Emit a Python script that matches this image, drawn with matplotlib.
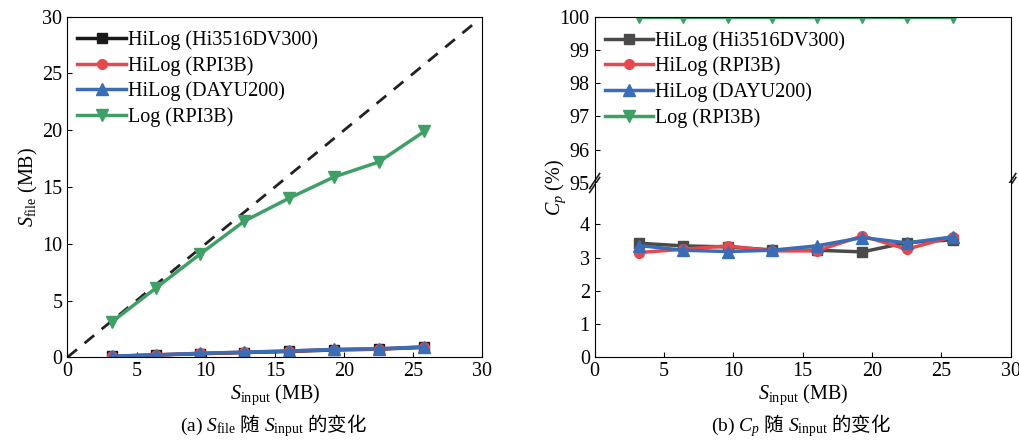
import matplotlib
matplotlib.use("Agg")
import matplotlib.pyplot as plt

plt.rcParams['font.family'] = ['Liberation Serif', 'Noto Sans CJK SC']
# mathtext: serif for the symbols, CJK through \mathsf{}
plt.rcParams['mathtext.fontset'] = 'custom'
plt.rcParams['mathtext.rm'] = 'Liberation Serif'
plt.rcParams['mathtext.it'] = 'Liberation Serif:italic'
plt.rcParams['mathtext.bf'] = 'Liberation Serif:bold'
plt.rcParams['mathtext.sf'] = 'Noto Sans CJK SC'
plt.rcParams['xtick.direction'] = 'in'
plt.rcParams['ytick.direction'] = 'in'

# S_input (MB)
s_input = [3.2, 6.4, 9.6, 12.8, 16.0, 19.3, 22.5, 25.8]

# (a) S_file (MB)
file_hi3516 = [0.08, 0.2, 0.32, 0.42, 0.52, 0.65, 0.72, 0.88]
file_rpi = [0.1, 0.22, 0.35, 0.45, 0.55, 0.68, 0.74, 0.9]
file_dayu = [0.1, 0.22, 0.35, 0.46, 0.56, 0.7, 0.75, 0.93]
file_log = [3.1, 6.1, 9.1, 12.0, 14.0, 15.9, 17.2, 19.9]

# (b) C_p (%)
cp_hi3516 = [3.43, 3.35, 3.32, 3.23, 3.22, 3.17, 3.45, 3.53]
cp_rpi = [3.15, 3.25, 3.35, 3.2, 3.2, 3.65, 3.25, 3.63]
cp_dayu = [3.36, 3.22, 3.18, 3.22, 3.35, 3.6, 3.44, 3.62]
cp_log = [100] * 8

labels = ['HiLog (Hi3516DV300)', 'HiLog (RPI3B)', 'HiLog (DAYU200)', 'Log (RPI3B)']
C_BLACK = '#1a1a1a'
C_GRAY = '#4a4a4a'
C_RED = '#e5484d'
C_BLUE = '#3a6db5'
C_GREEN = '#3f9f66'

FS = 14.5
LEG = dict(frameon=False, fontsize=FS, handlelength=2.4, handletextpad=0.1,
           labelspacing=0.3, borderaxespad=0.2, borderpad=0.3)
fig = plt.figure(figsize=(10.2, 4.45), dpi=100)

# ----------------------------- (a) ----------------------------- #
ax = fig.add_axes([0.066, 0.197, 0.407, 0.7655])
ax.plot([0, 29.3], [0, 29.3], '--', color='#222222', lw=2, dashes=(4.5, 3.5))
ax.plot(s_input, file_hi3516, '-s', color=C_BLACK, lw=2.5, ms=7, label=labels[0])
ax.plot(s_input, file_rpi, '-o', color=C_RED, lw=2.5, ms=7, label=labels[1])
ax.plot(s_input, file_dayu, '-^', color=C_BLUE, lw=2.5, ms=8, label=labels[2])
ax.plot(s_input, file_log, '-v', color=C_GREEN, lw=2.5, ms=8, label=labels[3])
ax.set_xlim(0, 30); ax.set_ylim(0, 30)
ax.set_xticks(range(0, 31, 5)); ax.set_yticks(range(0, 31, 5))
ax.tick_params(labelsize=FS)
ax.set_xlabel(r'$S_{\mathrm{input}}$ (MB)', fontsize=FS, labelpad=1)
ax.set_ylabel(r'$S_{\mathrm{file}}$ (MB)', fontsize=FS, labelpad=2)
ax.legend(loc='upper left', bbox_to_anchor=(0.0, 0.99), **LEG)
fig.text(0.268, 0.03,
         r'(a) $S_{\mathrm{file}}$ $\mathsf{随}$ $S_{\mathrm{input}}$ $\mathsf{的变化}$',
         ha='center', fontsize=FS - 0.5)

# ----------------------------- (b) ----------------------------- #
axt = fig.add_axes([0.583, 0.5888, 0.408, 0.3737])
axb = fig.add_axes([0.583, 0.197, 0.408, 0.3917])
for a in (axt, axb):
    a.plot(s_input, cp_hi3516, '-s', color=C_GRAY, lw=2.5, ms=7, label=labels[0])
    a.plot(s_input, cp_rpi, '-o', color=C_RED, lw=2.5, ms=7, label=labels[1])
    a.plot(s_input, cp_dayu, '-^', color=C_BLUE, lw=2.5, ms=8, label=labels[2])
    a.plot(s_input, cp_log, '-v', color=C_GREEN, lw=2.5, ms=8, label=labels[3])
    a.set_xlim(0, 30)
    a.tick_params(labelsize=FS)
axt.set_ylim(95, 100)
axt.set_yticks(range(95, 101))
axb.set_ylim(0, 5.24)
axb.set_yticks(range(0, 5))
axt.spines['bottom'].set_visible(False)
axb.spines['top'].set_visible(False)
axt.tick_params(axis='x', bottom=False, labelbottom=False)
axb.set_xticks(range(0, 31, 5))
axb.set_xlabel(r'$S_{\mathrm{input}}$ (MB)', fontsize=FS, labelpad=1)
fig.text(0.545, 0.58, r'$C_p$ (%)', rotation=90, va='center', ha='center', fontsize=FS)
axt.legend(loc='upper left', bbox_to_anchor=(0.0, 0.975), **LEG)

# break marks
for xb in (0.0, 1.0):
    for dy in (-0.012, 0.012):
        axt.plot([xb - 0.012, xb + 0.012], [dy - 0.045, dy + 0.045],
                 transform=axt.transAxes, color='#222222', lw=1.2, clip_on=False)
fig.text(0.785, 0.03,
         r'(b) $C_p$ $\mathsf{随}$ $S_{\mathrm{input}}$ $\mathsf{的变化}$',
         ha='center', fontsize=FS - 0.5)

fig.savefig('out.png', dpi=100)
